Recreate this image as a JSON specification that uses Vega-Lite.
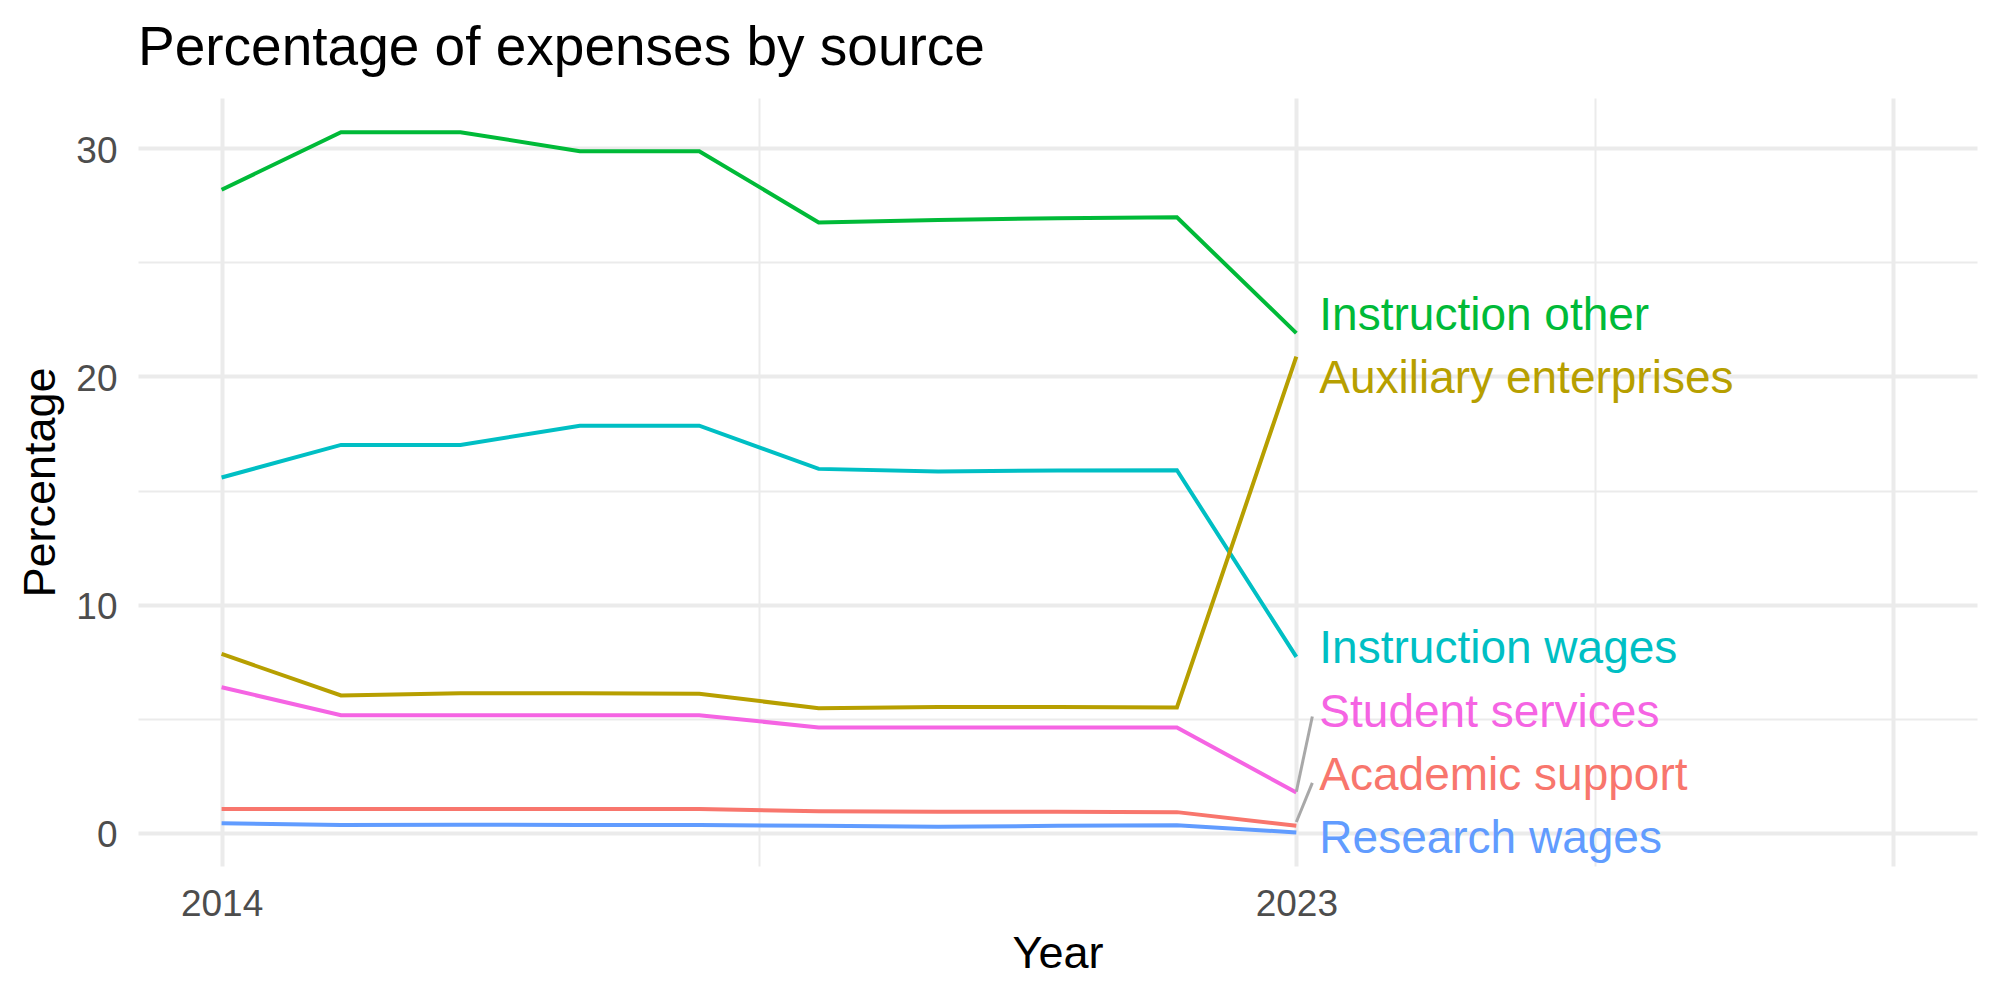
{
  "$schema": "https://vega.github.io/schema/vega-lite/v6.json",
  "autosize": "none",
  "width": 1839,
  "height": 768,
  "padding": {"left": 138, "top": 98, "right": 23, "bottom": 134},
  "background": "white",
  "title": {
    "text": "Percentage of expenses by source",
    "anchor": "start",
    "frame": "group",
    "font": "Liberation Sans",
    "fontSize": 55,
    "fontWeight": "normal",
    "color": "#000000",
    "baseline": "alphabetic",
    "offset": -22
  },
  "config": {"view": {"stroke": null}, "font": "Liberation Sans"},
  "datasets": {
    "series": [
      {"year": 2014, "series": "Instruction other", "value": 28.18},
      {"year": 2015, "series": "Instruction other", "value": 30.70},
      {"year": 2016, "series": "Instruction other", "value": 30.70},
      {"year": 2017, "series": "Instruction other", "value": 29.87},
      {"year": 2018, "series": "Instruction other", "value": 29.87},
      {"year": 2019, "series": "Instruction other", "value": 26.75},
      {"year": 2020, "series": "Instruction other", "value": 26.86},
      {"year": 2021, "series": "Instruction other", "value": 26.93},
      {"year": 2022, "series": "Instruction other", "value": 26.97},
      {"year": 2023, "series": "Instruction other", "value": 21.90},
      {"year": 2014, "series": "Instruction wages", "value": 15.57},
      {"year": 2015, "series": "Instruction wages", "value": 17.00},
      {"year": 2016, "series": "Instruction wages", "value": 17.00},
      {"year": 2017, "series": "Instruction wages", "value": 17.84},
      {"year": 2018, "series": "Instruction wages", "value": 17.84},
      {"year": 2019, "series": "Instruction wages", "value": 15.95},
      {"year": 2020, "series": "Instruction wages", "value": 15.83},
      {"year": 2021, "series": "Instruction wages", "value": 15.88},
      {"year": 2022, "series": "Instruction wages", "value": 15.89},
      {"year": 2023, "series": "Instruction wages", "value": 7.71},
      {"year": 2014, "series": "Auxiliary enterprises", "value": 7.84},
      {"year": 2015, "series": "Auxiliary enterprises", "value": 6.02},
      {"year": 2016, "series": "Auxiliary enterprises", "value": 6.12},
      {"year": 2017, "series": "Auxiliary enterprises", "value": 6.12},
      {"year": 2018, "series": "Auxiliary enterprises", "value": 6.10},
      {"year": 2019, "series": "Auxiliary enterprises", "value": 5.46},
      {"year": 2020, "series": "Auxiliary enterprises", "value": 5.52},
      {"year": 2021, "series": "Auxiliary enterprises", "value": 5.52},
      {"year": 2022, "series": "Auxiliary enterprises", "value": 5.50},
      {"year": 2023, "series": "Auxiliary enterprises", "value": 20.87},
      {"year": 2014, "series": "Student services", "value": 6.38},
      {"year": 2015, "series": "Student services", "value": 5.16},
      {"year": 2016, "series": "Student services", "value": 5.16},
      {"year": 2017, "series": "Student services", "value": 5.16},
      {"year": 2018, "series": "Student services", "value": 5.16},
      {"year": 2019, "series": "Student services", "value": 4.62},
      {"year": 2020, "series": "Student services", "value": 4.62},
      {"year": 2021, "series": "Student services", "value": 4.62},
      {"year": 2022, "series": "Student services", "value": 4.62},
      {"year": 2023, "series": "Student services", "value": 1.77},
      {"year": 2014, "series": "Academic support", "value": 1.05},
      {"year": 2015, "series": "Academic support", "value": 1.05},
      {"year": 2016, "series": "Academic support", "value": 1.05},
      {"year": 2017, "series": "Academic support", "value": 1.05},
      {"year": 2018, "series": "Academic support", "value": 1.05},
      {"year": 2019, "series": "Academic support", "value": 0.95},
      {"year": 2020, "series": "Academic support", "value": 0.93},
      {"year": 2021, "series": "Academic support", "value": 0.93},
      {"year": 2022, "series": "Academic support", "value": 0.91},
      {"year": 2023, "series": "Academic support", "value": 0.31},
      {"year": 2014, "series": "Research wages", "value": 0.42},
      {"year": 2015, "series": "Research wages", "value": 0.35},
      {"year": 2016, "series": "Research wages", "value": 0.36},
      {"year": 2017, "series": "Research wages", "value": 0.35},
      {"year": 2018, "series": "Research wages", "value": 0.35},
      {"year": 2019, "series": "Research wages", "value": 0.31},
      {"year": 2020, "series": "Research wages", "value": 0.27},
      {"year": 2021, "series": "Research wages", "value": 0.31},
      {"year": 2022, "series": "Research wages", "value": 0.34},
      {"year": 2023, "series": "Research wages", "value": 0.02}
    ],
    "labels": [
      {"year": 2023, "series": "Instruction other", "label_y": 22.04},
      {"year": 2023, "series": "Auxiliary enterprises", "label_y": 19.27},
      {"year": 2023, "series": "Instruction wages", "label_y": 7.44},
      {"year": 2023, "series": "Student services", "label_y": 4.66},
      {"year": 2023, "series": "Academic support", "label_y": 1.88},
      {"year": 2023, "series": "Research wages", "label_y": -0.89}
    ],
    "segments": [
      {"series": "Student services", "year": 2023, "year_end": 2023.134, "value": 1.81, "value_end": 5.10},
      {"series": "Academic support", "year": 2023, "year_end": 2023.134, "value": 0.48, "value_end": 2.19}
    ]
  },
  "layer": [
    {
      "data": {"name": "series"},
      "mark": {"type": "line", "strokeWidth": 4},
      "encoding": {
        "x": {
          "field": "year",
          "type": "quantitative",
          "title": "Year",
          "scale": {"domain": [2013.3, 2028.7], "nice": false, "zero": false},
          "axis": {
            "values": [2014, 2018.5, 2023, 2025.5, 2028],
            "format": "d",
            "labelExpr": "datum.value == 2014 || datum.value == 2023 ? datum.label : ''",
            "domain": false,
            "ticks": false,
            "tickSize": 0,
            "grid": true,
            "gridColor": "#EBEBEB",
            "gridWidth": {"condition": {"test": "datum.value == 2018.5 || datum.value == 2025.5", "value": 2}, "value": 4},
            "labelFont": "Liberation Sans",
            "labelFontSize": 37,
            "labelColor": "#4D4D4D",
            "labelPadding": 20,
            "labelBaseline": "top",
            "labelFlush": false,
            "labelOverlap": false,
            "titleFont": "Liberation Sans",
            "titleFontSize": 45,
            "titleFontWeight": "normal",
            "titleColor": "#000000",
            "titleBaseline": "alphabetic",
            "titleAlign": "center",
            "titleX": 919.5,
            "titleY": 101
          }
        },
        "y": {
          "field": "value",
          "type": "quantitative",
          "title": "Percentage",
          "scale": {"domain": [-1.45, 32.2], "nice": false, "zero": false},
          "axis": {
            "values": [0, 5, 10, 15, 20, 25, 30],
            "labelExpr": "datum.value % 10 == 0 ? datum.label : ''",
            "domain": false,
            "ticks": false,
            "tickSize": 0,
            "grid": true,
            "gridColor": "#EBEBEB",
            "gridWidth": {"condition": {"test": "datum.value % 10 != 0", "value": 2}, "value": 4},
            "labelFont": "Liberation Sans",
            "labelFontSize": 37,
            "labelColor": "#4D4D4D",
            "labelPadding": 21,
            "labelBaseline": "middle",
            "labelOffset": 3,
            "labelFlush": false,
            "labelOverlap": false,
            "titleFont": "Liberation Sans",
            "titleFontSize": 45,
            "titleFontWeight": "normal",
            "titleColor": "#000000",
            "titleAngle": -90,
            "titleBaseline": "alphabetic",
            "titleAlign": "center",
            "titleX": -84,
            "titleY": 384
          }
        },
        "color": {
          "field": "series",
          "type": "nominal",
          "legend": null,
          "scale": {
            "domain": ["Academic support", "Auxiliary enterprises", "Instruction other", "Instruction wages", "Research wages", "Student services"],
            "range": ["#F8766D", "#B79F00", "#00BA38", "#00BFC4", "#619CFF", "#F564E3"]
          }
        }
      }
    },
    {
      "data": {"name": "segments"},
      "mark": {"type": "rule", "color": "#A8A8A8", "strokeWidth": 3},
      "encoding": {
        "x": {"field": "year", "type": "quantitative", "title": "Year"},
        "x2": {"field": "year_end"},
        "y": {"field": "value", "type": "quantitative", "title": "Percentage"},
        "y2": {"field": "value_end"}
      }
    },
    {
      "data": {"name": "labels"},
      "mark": {"type": "text", "align": "left", "baseline": "alphabetic", "dx": 23, "font": "Liberation Sans", "fontSize": 46},
      "encoding": {
        "x": {"field": "year", "type": "quantitative", "title": "Year"},
        "y": {"field": "label_y", "type": "quantitative", "title": "Percentage"},
        "text": {"field": "series", "type": "nominal"},
        "color": {"field": "series", "type": "nominal", "legend": null}
      }
    }
  ]
}
